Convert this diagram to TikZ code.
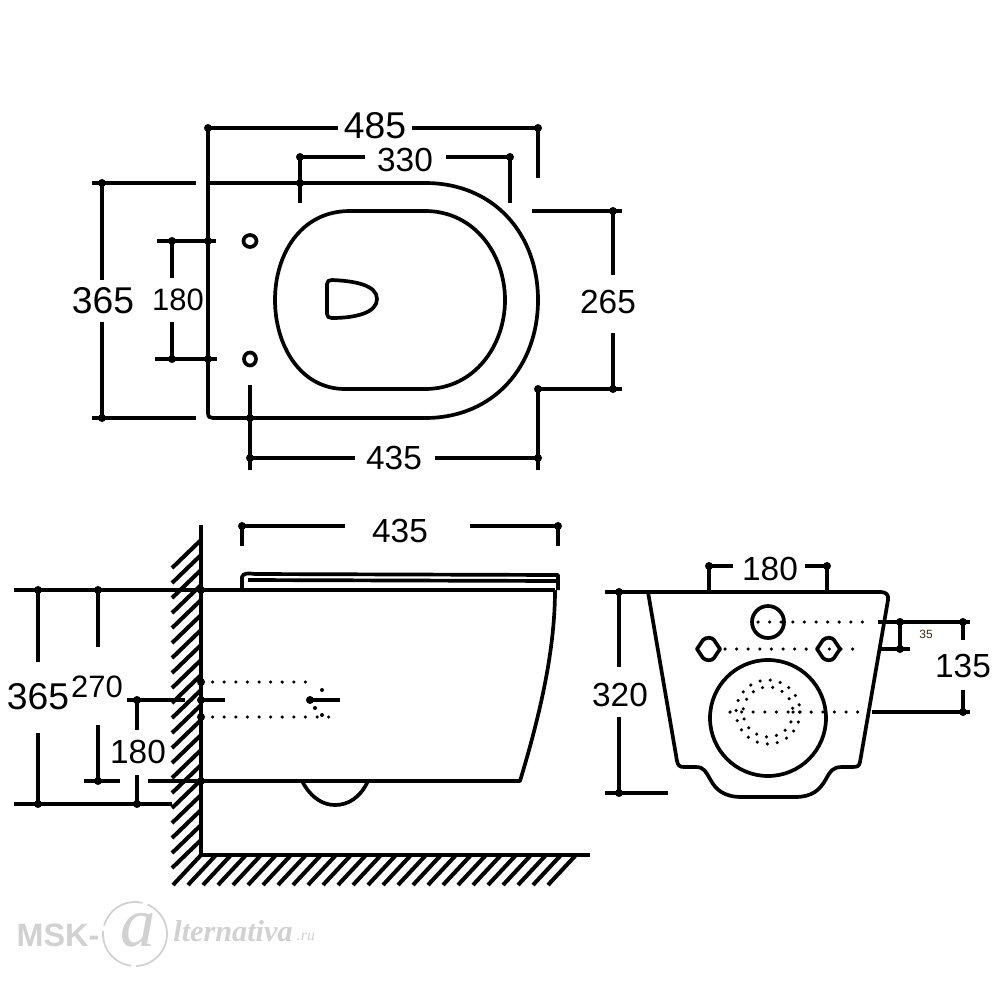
\documentclass[tikz,border=0pt]{standalone}
\usepackage{fontspec}
\setmainfont{Liberation Sans}
\newfontfamily\markfont{Liberation Serif}

\tikzset{
	main/.style={black, line width=1.05pt, line join=round},
	dimline/.style={black, line width=1.05pt},
	tip/.style={circle, fill=black, inner sep=0pt, minimum size=0.8mm},
	dotted line/.style={black, line width=1pt, line cap=round, dash pattern=on 0pt off 3.3pt},
	hatch/.style={black, line width=1.15pt},
	numsmall/.style={font=\fontsize{8.8pt}{9pt}\selectfont, inner sep=1pt},
	nummid/.style={font=\fontsize{9.5pt}{10pt}\selectfont, inner sep=1pt},
	numbig/.style={font=\fontsize{10.6pt}{11pt}\selectfont, inner sep=1pt},
	tagmark/.style={black!18}
}

\begin{document}
\begin{tikzpicture}[x=0.01cm,y=-0.01cm]
\useasboundingbox (0,0) rectangle (1000,1000);

% top view
\draw [main] (208,128) -- (208,413) .. controls (208,417) and (210,418) .. (213,418) -- (425,418)
	.. controls (495,418) and (538,365) .. (538,300)
	.. controls (538,235) and (495,183) .. (425,183) -- (208,183);
\draw [main] (350,211) -- (425,211)
	.. controls (475,211) and (505,255) .. (505,300)
	.. controls (505,345) and (475,389) .. (425,389) -- (345,389)
	.. controls (300,389) and (275,345) .. (275,300)
	.. controls (275,255) and (300,211) .. (350,211);
\draw [main] (327,284) .. controls (327,281) and (329,280) .. (332,280)
	.. controls (355,281) and (377,285) .. (377,299)
	.. controls (377,313) and (355,318) .. (332,318)
	.. controls (329,318) and (327,317) .. (327,314) -- cycle;
\draw [main] (250,241) ellipse (6.5 and 6);
\draw [main] (250,359) ellipse (6 and 6.5);

\node (n485) at (375,126) [numbig] {485};
\node (n330) at (405,160) [nummid] {330};
\node (n365a) at (103,301) [numbig] {365};
\node (n180a) at (178,300) [numsmall] {180};
\node (n265) at (608,302) [nummid] {265};
\node (n435a) at (394,458) [nummid] {435};

\draw [dimline] (208,128) -- (338,128) (412,128) -- (538,128) -- (538,178);
\draw [dimline] (300,203) -- (300,157) -- (365,157) (446,157) -- (510,157) -- (510,203);
\draw [dimline] (196,183) -- (92,183) (102,183) -- (102,280) (102,322) -- (102,418) (92,418) -- (196,418);
\draw [dimline] (157,241) -- (216,241) (172,241) -- (172,278) (172,322) -- (172,359) (155,359) -- (217,359);
\draw [dimline] (532,211) -- (622,211) (613,211) -- (613,275) (613,333) -- (613,389) (622,389) -- (538,389) -- (538,470);
\draw [dimline] (250,385) -- (250,470) (250,458) -- (355,458) (435,458) -- (538,458);
\foreach \px/\py in {208/128,538/128,300/183,510/157,300/157,102/183,102/418,172/241,172/359,208/241,208/359,613/211,613/389,538/389,250/458,538/458,250/418}
	\node (tip\px\py) at (\px,\py) [tip] {};

% side view
\draw [main] (201,525) -- (201,855) -- (590,855);
\foreach \hy in {540,555,...,840}
	\draw [hatch] (172,\hy+28) -- (201,\hy);
\foreach \hx in {201,216,...,576}
	\draw [hatch] (\hx-28,885) -- (\hx,855);
\draw [main] (14,590) -- (555,590);
\draw [main] (555,590) .. controls (555,650) and (540,715) .. (520,781) -- (148,781);
\draw [main] (302,781) .. controls (312,800) and (325,805) .. (335,805) .. controls (348,805) and (360,798) .. (368,781);
\draw [main] (242,590) -- (242,577) .. controls (243,573) and (248,573) .. (255,574) -- (558,575) -- (558,590);
\draw [main] (248,580) -- (558,581);
\draw [dotted line] (201,682) -- (317,682);
\draw [dotted line] (201,717) -- (330,717);
\draw [dimline] (200,700) -- (225,700) (310,700) -- (340,700) (127,700) -- (185,700);
\foreach \px/\py in {322/690,315/708,322/715}
	\fill (\px,\py) circle (2);

\node (n365b) at (38,697) [numbig] {365};
\node (n270) at (97,687) [numsmall] {270};
\node (n180b) at (138,752) [nummid] {180};
\node (n435b) at (400,531) [nummid] {435};

\draw [dimline] (242,546) -- (242,526) -- (345,526) (470,526) -- (558,526) -- (558,546);
\draw [dimline] (14,804) -- (172,804);
\draw [dimline] (38,590) -- (38,662) (38,733) -- (38,804);
\draw [dimline] (98,590) -- (98,647) (98,725) -- (98,781) (84,781) -- (120,781);
\draw [dimline] (137,700) -- (137,730) (137,775) -- (137,804);
\foreach \px/\py in {242/526,558/526,38/590,98/590,38/804,98/781,137/700,137/804,201/700,201/682,201/717,201/781,201/590,310/700}
	\node (tip\px\py) at (\px,\py) [tip] {};

% front view
\draw [main] (605,592) -- (881,592) .. controls (886,592) and (889,595) .. (888,600)
	-- (860,762) .. controls (859,766) and (858,767) .. (852,767) -- (842,767)
	.. controls (832,767) and (830,772) .. (826,779)
	.. controls (820,790) and (812,797) .. (795,797) -- (742,797)
	.. controls (724,797) and (716,790) .. (710,779)
	.. controls (706,772) and (704,767) .. (696,767) -- (684,767)
	.. controls (679,767) and (678,765) .. (677,761) -- (648,592);
\draw [main] (768,622) circle (16);
\draw [main] (697,649) -- (703,640) .. controls (706,637) and (712,637) .. (714,640) -- (720,649) -- (714,658) .. controls (712,661) and (706,661) .. (703,658) -- cycle;
\draw [main] (817,649) -- (823,640) .. controls (826,637) and (832,637) .. (834,640) -- (840,649) -- (834,658) .. controls (832,661) and (826,661) .. (823,658) -- cycle;
\draw [main] (768,718) circle (58);
\draw [dotted line, dash pattern=on 0pt off 2.9pt] (768,712) circle (32);
\draw [dotted line, dash pattern=on 0pt off 2.9pt] (768,712) circle (25);
\draw [dotted line] (758,622) -- (866,622);
\draw [dotted line] (725,649) -- (858,649);
\draw [dotted line] (730,712) -- (858,712);

\node (n180c) at (770,569) [nummid] {180};
\node (n320) at (620,695) [nummid] {320};
\node (n135) at (963,666) [nummid] {135};
\node (n35) at (926,634) [font=\fontsize{3.4pt}{4pt}\selectfont, text=black!70!brown, inner sep=0pt] {35};

\draw [dimline] (709,592) -- (709,566) -- (733,566) (805,566) -- (827,566) -- (827,592);
\draw [dimline] (619,592) -- (619,667) (619,717) -- (619,793) (605,793) -- (668,793);
\draw [dimline] (878,622) -- (970,622) (872,712) -- (970,712);
\draw [dimline] (963,622) -- (963,640) (963,690) -- (963,712);
\draw [dimline] (900,622) -- (900,649) (880,649) -- (910,649);
\foreach \px/\py in {709/566,827/566,619/592,619/793,900/622,900/649,963/622,963/712}
	\node (tip\px\py) at (\px,\py) [tip] {};

% watermark
\node (msk) at (58,935) [tagmark, font=\fontsize{9.2pt}{10pt}\selectfont\bfseries] {MSK-};
\draw [tagmark, line width=0.5pt, dash pattern=on 14pt off 1.5pt] (135,934) circle (32);
\node (at) at (138,930) [tagmark, font=\fontsize{20pt}{20pt}\markfont\itshape] {a};
\node (alt) at (233,931) [tagmark, font=\fontsize{8.6pt}{9pt}\markfont\itshape\bfseries] {lternativa};
\node (ru) at (306,937) [tagmark, font=\fontsize{4.5pt}{5pt}\markfont\itshape] {.ru};
\end{tikzpicture}
\end{document}
